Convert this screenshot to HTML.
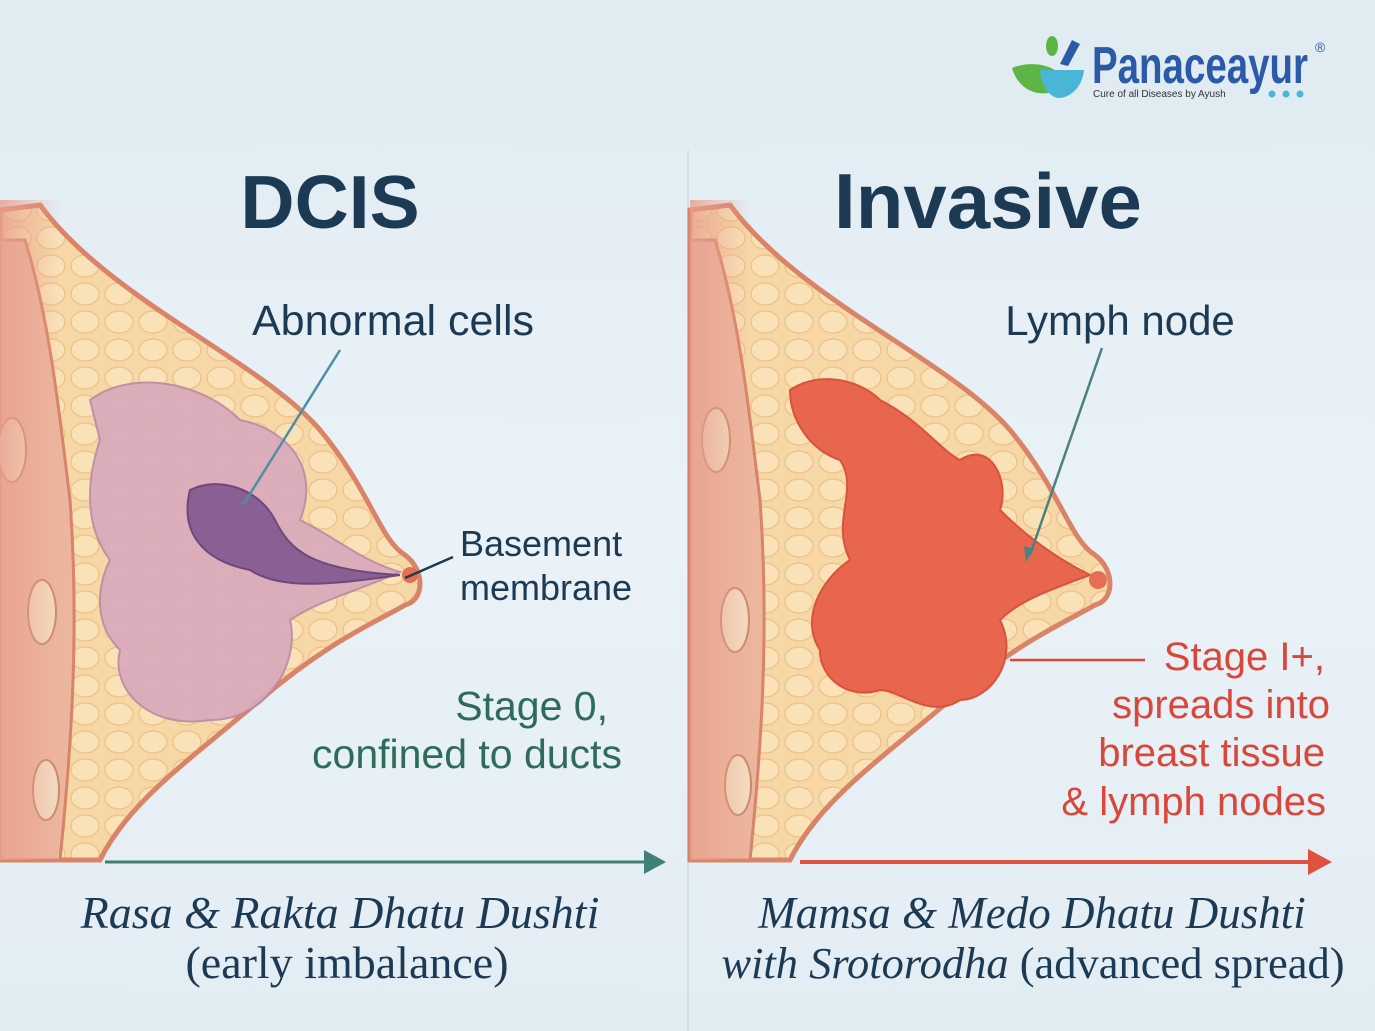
<!DOCTYPE html>
<html><head><meta charset="utf-8"><style>
html,body{margin:0;padding:0;width:1375px;height:1031px;overflow:hidden;background:#e6eff5}
svg{display:block}
.sans{font-family:"Liberation Sans","DejaVu Sans",sans-serif}
.serif{font-family:"Liberation Serif","DejaVu Serif",serif}
</style></head><body>
<svg width="1375" height="1031" viewBox="0 0 1375 1031">
<defs>
<linearGradient id="bg" x1="0" y1="0" x2="0" y2="1">
<stop offset="0" stop-color="#dfebf2"/><stop offset="0.5" stop-color="#eaf2f7"/><stop offset="1" stop-color="#e2edf3"/></linearGradient>
<pattern id="fat" width="34" height="28" patternUnits="userSpaceOnUse">
<rect width="34" height="28" fill="#f6d7a6"/>
<ellipse cx="17" cy="14" rx="14" ry="11" fill="#f9e2b8" stroke="#efc48c" stroke-width="1.5"/>
</pattern>
<linearGradient id="fadeL" x1="0" y1="0" x2="1" y2="0"><stop offset="0" stop-color="#e8a08e" stop-opacity="0.8"/><stop offset="1" stop-color="#e8a08e" stop-opacity="0"/></linearGradient>
</defs>
<rect width="1375" height="1031" fill="url(#bg)"/>
<rect y="0" width="1375" height="125" fill="#e0ebf2"/>
<line x1="688" y1="150" x2="688" y2="1031" stroke="#d3e0e8" stroke-width="2"/>

<!-- LEFT breast -->
<g>
<path d="M0,210 L40,205 C110,300 260,360 320,430 C370,490 380,540 405,555 C425,570 425,600 405,605 C380,620 330,640 260,700 C190,760 130,800 100,860 L0,860 Z" fill="url(#fat)" stroke="#d98468" stroke-width="5"/>
<path d="M0,240 L25,240 C50,320 60,420 70,500 C80,640 70,760 60,860 L0,860 Z" fill="#ecb59e" stroke="#d98468" stroke-width="3"/>
<ellipse cx="12" cy="450" rx="14" ry="32" fill="#f3dcc0" stroke="#c98a6a" stroke-width="2"/>
<ellipse cx="42" cy="612" rx="14" ry="32" fill="#f3dcc0" stroke="#c98a6a" stroke-width="2"/>
<ellipse cx="46" cy="790" rx="13" ry="30" fill="#f3dcc0" stroke="#c98a6a" stroke-width="2"/>
<rect x="0" y="200" width="60" height="660" fill="url(#fadeL)"/>
<path d="M90,400 C130,370 200,380 240,420 C290,430 320,470 300,520 C340,540 360,560 400,572 C360,590 320,600 290,620 C300,660 270,720 210,720 C150,730 110,690 120,650 C90,620 100,580 110,560 C80,520 90,470 100,440 Z" fill="#d9a9bd" stroke="#b98aa2" stroke-width="2" opacity="0.9"/>
<path d="M190,490 C220,475 260,490 275,520 C290,550 310,570 400,575 C330,585 280,590 250,570 C200,560 180,530 190,490 Z" fill="#8a5f94" stroke="#6e4a7b" stroke-width="2"/>
<circle cx="410" cy="575" r="8" fill="#e56f55"/>
</g>
<line x1="340" y1="350" x2="243" y2="505" stroke="#4d8fa0" stroke-width="2.5"/>
<line x1="453" y1="557" x2="405" y2="578" stroke="#1e3a52" stroke-width="2.5"/>

<!-- RIGHT breast -->
<g>
<path d="M690,210 L730,205 C800,300 950,360 1010,430 C1060,490 1070,540 1095,555 C1115,570 1115,600 1095,605 C1070,620 1020,640 950,700 C880,760 820,800 790,860 L690,860 Z" fill="url(#fat)" stroke="#d98468" stroke-width="5"/>
<path d="M690,240 L715,240 C740,320 750,420 760,500 C770,640 760,760 750,860 L690,860 Z" fill="#ecb59e" stroke="#d98468" stroke-width="3"/>
<ellipse cx="716" cy="440" rx="14" ry="32" fill="#f3dcc0" stroke="#c98a6a" stroke-width="2"/>
<ellipse cx="735" cy="620" rx="14" ry="32" fill="#f3dcc0" stroke="#c98a6a" stroke-width="2"/>
<ellipse cx="738" cy="785" rx="13" ry="30" fill="#f3dcc0" stroke="#c98a6a" stroke-width="2"/>
<rect x="690" y="200" width="60" height="660" fill="url(#fadeL)"/>
<path d="M790,390 C820,370 860,380 880,400 C920,420 940,450 960,460 C990,440 1010,480 1000,510 C1030,540 1060,560 1090,575 C1050,590 1020,600 1000,620 C1020,660 990,700 960,700 C930,720 900,690 880,690 C850,700 820,680 820,650 C800,620 820,580 850,560 C830,520 860,490 840,460 C810,450 790,420 790,390 Z" fill="#e8664e" stroke="#d8523c" stroke-width="2"/>
<circle cx="1098" cy="580" r="9" fill="#e56f55"/>
</g>
<line x1="1102" y1="348" x2="1030" y2="555" stroke="#4d8080" stroke-width="2.5"/>
<polygon points="1026,562 1024,546 1034,549" fill="#4d8080"/>
<line x1="1010" y1="660" x2="1145" y2="660" stroke="#d9473a" stroke-width="2.5"/>

<!-- Arrows -->
<line x1="105" y1="862" x2="648" y2="862" stroke="#3f7f78" stroke-width="3"/>
<polygon points="666,862 644,850 644,874" fill="#3f7f78"/>
<line x1="800" y1="862" x2="1312" y2="862" stroke="#e0513f" stroke-width="4"/>
<polygon points="1332,862 1308,849 1308,875" fill="#e0513f"/>

<!-- Titles -->
<text x="330" y="228" text-anchor="middle" class="sans" font-size="75" font-weight="bold" fill="#1d3a54">DCIS</text>
<text x="988" y="228" text-anchor="middle" class="sans" font-size="78" font-weight="bold" fill="#1d3a54">Invasive</text>
<text x="393" y="335" text-anchor="middle" class="sans" font-size="43" fill="#1d3a54">Abnormal cells</text>
<text x="460" y="556" class="sans" font-size="36" fill="#1d3a54">Basement</text>
<text x="460" y="600" class="sans" font-size="36" fill="#1d3a54">membrane</text>
<text x="608" y="720" text-anchor="end" class="sans" font-size="41" fill="#2f6b5b">Stage 0,</text>
<text x="622" y="768" text-anchor="end" class="sans" font-size="41" fill="#2f6b5b">confined to ducts</text>
<text x="1120" y="335" text-anchor="middle" class="sans" font-size="42" fill="#1d3a54">Lymph node</text>
<text x="1325" y="670" text-anchor="end" class="sans" font-size="40" fill="#d9473a">Stage I+,</text>
<text x="1330" y="718" text-anchor="end" class="sans" font-size="40" fill="#d9473a">spreads into</text>
<text x="1325" y="766" text-anchor="end" class="sans" font-size="40" fill="#d9473a">breast tissue</text>
<text x="1326" y="815" text-anchor="end" class="sans" font-size="40" fill="#d9473a">&amp; lymph nodes</text>

<text x="340" y="928" text-anchor="middle" class="serif" font-size="46" font-style="italic" fill="#1d3a54">Rasa &amp; Rakta Dhatu Dushti</text>
<text x="347" y="978" text-anchor="middle" class="serif" font-size="46" fill="#1d3a54">(early imbalance)</text>
<text x="1032" y="928" text-anchor="middle" class="serif" font-size="45" font-style="italic" fill="#1d3a54">Mamsa &amp; Medo Dhatu Dushti</text>
<text x="1033" y="978" text-anchor="middle" class="serif" font-size="44.5" fill="#1d3a54"><tspan font-style="italic">with Srotorodha</tspan> (advanced spread)</text>

<!-- Logo -->
<path d="M1012,68 C1030,60 1060,64 1066,84 C1050,100 1020,96 1012,68 Z" fill="#5cb545"/>
<path d="M1040,70 L1084,70 C1082,88 1070,98 1058,98 C1048,96 1042,86 1040,70 Z" fill="#49b6d8"/>
<path d="M1060,64 L1072,40 L1080,44 L1068,66 Z" fill="#2a5aa8"/>
<ellipse cx="1052" cy="46" rx="6" ry="10" fill="#5cb545"/>
<text x="1092" y="83" class="sans" font-size="52" font-weight="bold" fill="#2a5aa8" textLength="216" lengthAdjust="spacingAndGlyphs">Panaceayur</text>
<text x="1093" y="97" class="sans" font-size="10" fill="#333">Cure of all Diseases by Ayush</text>
<circle cx="1272" cy="94" r="3.5" fill="#49b6d8"/><circle cx="1286" cy="94" r="3.5" fill="#49b6d8"/><circle cx="1300" cy="94" r="3.5" fill="#49b6d8"/>
<text x="1315" y="52" class="sans" font-size="14" fill="#2a5aa8">®</text>
</svg>
</body></html>
